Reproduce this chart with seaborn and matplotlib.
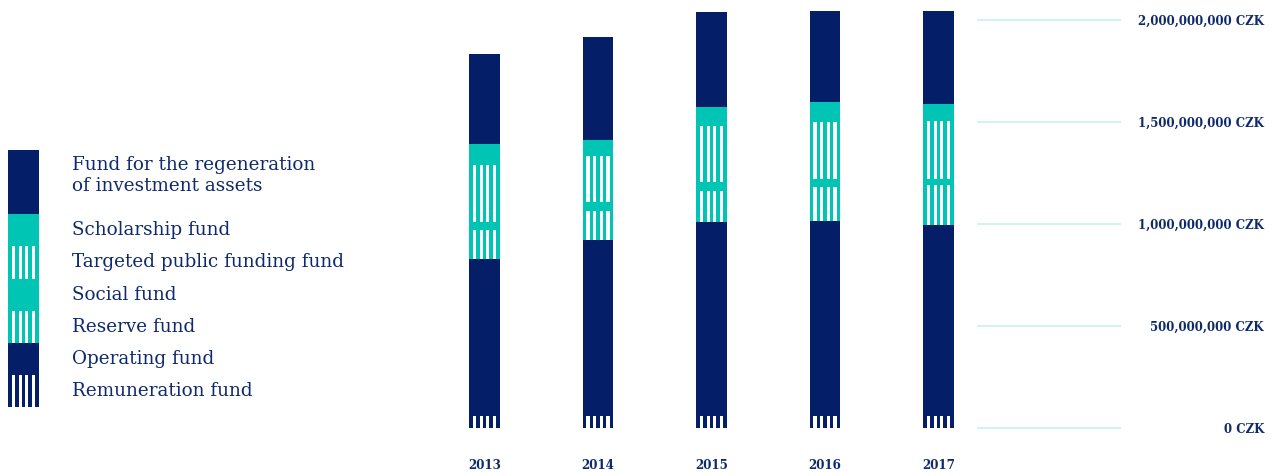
import numpy as np
import pandas as pd
import matplotlib
matplotlib.use("Agg")
import matplotlib.pyplot as plt
import seaborn as sns

# ---- data (millions CZK) ----
years = ["2013", "2014", "2015", "2016", "2017"]
remuneration = [56, 56, 56, 56, 56]
operating = [770, 863, 951, 956, 937]
reserve = [142, 142, 154, 167, 196]
social = [41, 46, 42, 38, 29]
targeted = [278, 224, 276, 281, 284]
scholarship = [103, 78, 92, 98, 84]
regeneration = [441, 505, 466, 446, 456]

series_names = ["Remuneration fund", "Operating fund", "Reserve fund", "Social fund",
                "Targeted public funding fund", "Scholarship fund",
                "Fund for the regeneration\nof investment assets"]
y_ticks = [0, 500, 1000, 1500, 2000]

# ---- styles ----
NAVY = "#041f67"
TEAL = "#00c4b4"
TEXT = "#0f2a6c"
GRID = "#d3f3f0"
colors = [NAVY, NAVY, TEAL, TEAL, TEAL, TEAL, NAVY]
striped = [True, False, True, False, True, False, False]
legend_units = [1, 1, 1, 1, 1, 1, 2]

BAR_W = 0.273
GAP_FRAC = 0.216
SW_FRAC = 0.10

sns.set_theme(style="white")
plt.rcParams["font.family"] = ["DejaVu Serif"]

fig = plt.figure(figsize=(12.76, 4.76), dpi=100)
ax = fig.add_axes([400 / 1276, 36 / 476, 876 / 1276, 440 / 476])

vals = np.array([remuneration, operating, reserve, social, targeted, scholarship, regeneration], dtype=float)
tops = np.cumsum(vals, axis=0)
bottoms = tops - vals

# layered stacked bars with seaborn (top-most cumulative first)
for k in reversed(range(len(vals))):
    df = pd.DataFrame({"year": years, "value": tops[k]})
    sns.barplot(data=df, x="year", y="value", order=years, color=colors[k],
                saturation=1, width=BAR_W, errorbar=None, linewidth=0, ax=ax)

# white stripes
xpos = np.arange(len(years))
for k in range(len(vals)):
    if striped[k]:
        for j in range(4):
            ax.bar(xpos + (j - 1.5) * GAP_FRAC * BAR_W, vals[k], bottom=bottoms[k],
                   width=SW_FRAC * BAR_W, color="white", linewidth=0)

# gridlines and labels at right
ytr = ax.get_yaxis_transform()
ax.hlines(y_ticks, 0.6587, 0.8231, transform=ytr, color=GRID, lw=1.5)
for v in y_ticks:
    ax.text(0.9863, v, f"{int(v * 1e6):,} CZK", transform=ytr, ha="right",
            va="center_baseline", fontsize=8.5, fontweight="bold", color=TEXT)

ax.set_xlim(-0.7445, 6.9736)
ax.set_ylim(-60.3, 2096.6)
ax.set_xticks(range(len(years)))
ax.set_xticklabels(years, fontsize=8.6, fontweight="bold", color=TEXT)
ax.tick_params(axis="x", length=0, pad=14)
ax.set_yticks([])
ax.set_xlabel("")
ax.set_ylabel("")
for s in ax.spines.values():
    s.set_visible(False)

# ---- legend strip ----
axl = fig.add_axes([8 / 1276, (476 - 407) / 476, 392 / 1276, 257 / 476])
axl.set_xlim(0, 392 / 31)
axl.set_ylim(0, 8)
b = 0
for k in range(len(vals)):
    h = legend_units[k]
    axl.bar([0.5], [h], bottom=b, width=1, color=colors[k], linewidth=0)
    if striped[k]:
        for j in range(4):
            axl.bar([0.5 + (j - 1.5) * GAP_FRAC], [h], bottom=b, width=SW_FRAC,
                    color="white", linewidth=0)
    ty = b + h / 2 if h == 1 else b + 1.2
    axl.text(64 / 31, ty, series_names[k], ha="left", va="center", fontsize=13.2,
             color=TEXT, linespacing=1.25)
    b += h
axl.axis("off")

fig.savefig("out.png", dpi=100)
